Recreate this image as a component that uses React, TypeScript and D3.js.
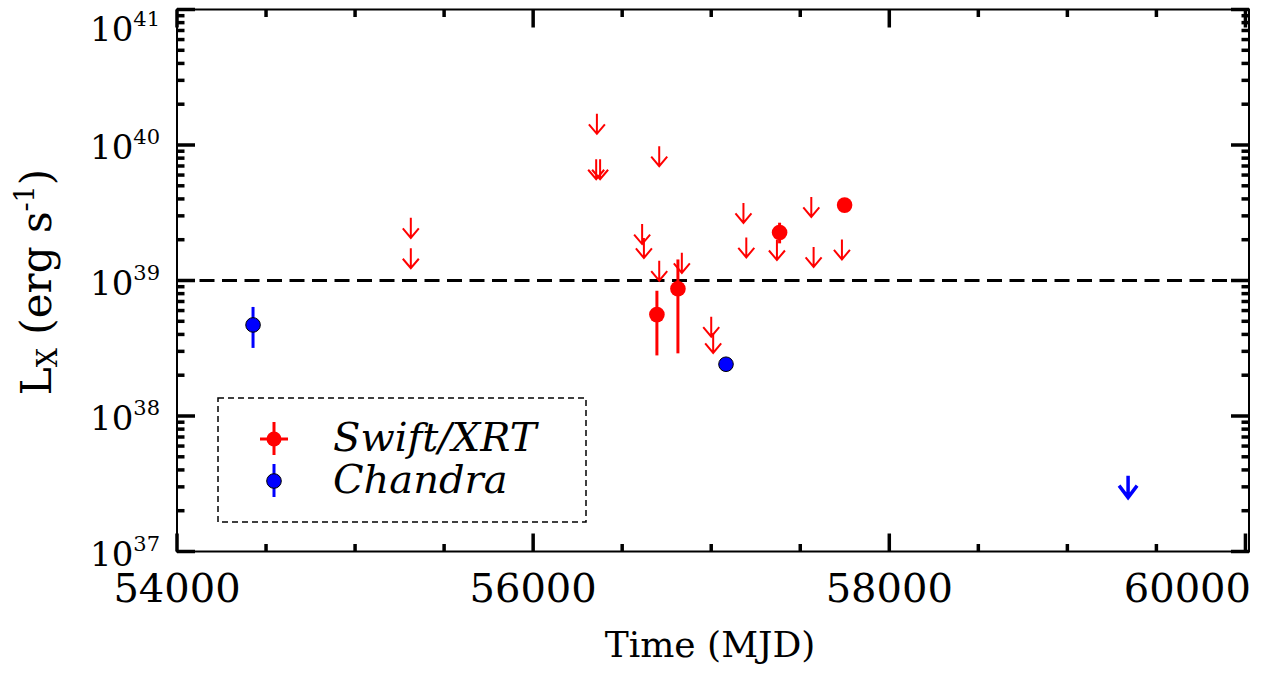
import React from "react";
import * as d3 from "d3";

// ---- data ----
const xTickValues = [54000, 56000, 58000, 60000];
const yDecades = [37, 38, 39, 40, 41];

// Swift/XRT detections: MJD, Lx, lower, upper
const swiftDetMjd = [56695, 56813, 57384, 57749];
const swiftDetLx = [5.6e38, 8.7e38, 2.26e39, 3.6e39];
const swiftDetLo = [2.8e38, 2.9e38, 1.88e39, 3.5e39];
const swiftDetHi = [8.4e38, 1.43e39, 2.67e39, 3.7e39];

// Swift/XRT upper limits
const swiftLimMjd = [55313, 55313, 56358, 56354, 56376, 56612, 56622, 56708, 56708, 56835, 57000, 57011, 57181, 57197, 57369, 57562, 57575, 57734];
const swiftLimLx = [2.9e39, 1.73e39, 1.7e40, 7.85e39, 7.85e39, 2.61e39, 2.06e39, 9.8e39, 1.4e39, 1.6e39, 5.41e38, 4.1e38, 3.74e39, 2.08e39, 1.99e39, 4.14e39, 1.77e39, 2.01e39];

// Chandra detections
const chandraDetMjd = [54427, 57083];
const chandraDetLx = [4.7e38, 2.41e38];
const chandraDetLo = [3.18e38, 2.32e38];
const chandraDetHi = [6.38e38, 2.5e38];

// Chandra upper limit
const chandraLimMjd = [59341];
const chandraLimLx = [3.63e37];

const threshold = 1e39;

const W = 1266;
const H = 674;
const L = 177, R = 1249, T = 9.5, B = 551.5;
const FONT = "'DejaVu Serif', serif";

export default function App() {
  const x = d3.scaleLinear().domain([54000, 60020]).range([L, R]);
  const y = d3.scaleLog().domain([1e37, 1e41]).range([B, T]);

  const xMinor = d3.range(54000, 60001, 500).filter((v) => v % 2000 !== 0);
  const yMinor: number[] = [];
  for (let d = 37; d < 41; d++) for (let m = 2; m <= 9; m++) yMinor.push(m * Math.pow(10, d));

  const tickW = 3.5;
  const majLen = 18, minLen = 7.5;

  const redArrow = (mx: number, v: number, key: string) => {
    const px = x(mx), py = y(v), len = 20;
    return (
      <path key={key} d={`M${px},${py}L${px},${py + len}M${px - 8},${py + len - 9.5}L${px},${py + len}L${px + 8},${py + len - 9.5}`}
        stroke="#ff0000" strokeWidth={2} fill="none" />
    );
  };
  const blueArrow = (mx: number, v: number, key: string) => {
    const px = x(mx), py = y(v), len = 22;
    return (
      <path key={key} d={`M${px},${py}L${px},${py + len}M${px - 9},${py + len - 12}L${px},${py + len}L${px + 9},${py + len - 12}`}
        stroke="#0000ff" strokeWidth={3.5} fill="none" />
    );
  };

  return (
    <svg width={W} height={H} style={{ position: "absolute", left: 0, top: 0, background: "#fff" }} fontFamily={FONT}>
      <rect x={0} y={0} width={W} height={H} fill="#fff" />
      {/* threshold line */}
      <line x1={L} x2={R} y1={y(threshold)} y2={y(threshold)} stroke="#000" strokeWidth={3} strokeDasharray="15,7.5" />

      {/* Swift limits */}
      {swiftLimMjd.map((m, i) => redArrow(m, swiftLimLx[i], "sl" + i))}
      {/* Swift detections */}
      {swiftDetMjd.map((m, i) => (
        <g key={"sd" + i}>
          <line x1={x(m)} x2={x(m)} y1={y(swiftDetLo[i])} y2={y(swiftDetHi[i])} stroke="#ff0000" strokeWidth={3} />
          <circle cx={x(m)} cy={y(swiftDetLx[i])} r={7.8} fill="#ff0000" />
        </g>
      ))}
      {/* Chandra */}
      {chandraDetMjd.map((m, i) => (
        <g key={"cd" + i}>
          <line x1={x(m)} x2={x(m)} y1={y(chandraDetLo[i])} y2={y(chandraDetHi[i])} stroke="#0000ff" strokeWidth={3} />
          <circle cx={x(m)} cy={y(chandraDetLx[i])} r={7.3} fill="#0000ff" stroke="#000" strokeWidth={1} />
        </g>
      ))}
      {chandraLimMjd.map((m, i) => blueArrow(m, chandraLimLx[i], "cl" + i))}

      {/* frame */}
      <rect x={L} y={T} width={R - L} height={B - T} fill="none" stroke="#000" strokeWidth={2} />

      {/* x ticks */}
      {xTickValues.map((v) => (
        <g key={"xt" + v}>
          <line x1={x(v)} x2={x(v)} y1={B} y2={B - majLen} stroke="#000" strokeWidth={tickW} />
          <line x1={x(v)} x2={x(v)} y1={T} y2={T + majLen} stroke="#000" strokeWidth={tickW} />
        </g>
      ))}
      {xMinor.map((v) => (
        <g key={"xm" + v}>
          <line x1={x(v)} x2={x(v)} y1={B} y2={B - minLen} stroke="#000" strokeWidth={tickW} />
          <line x1={x(v)} x2={x(v)} y1={T} y2={T + minLen} stroke="#000" strokeWidth={tickW} />
        </g>
      ))}
      {/* y ticks */}
      {yDecades.map((d) => {
        const py = y(Math.pow(10, d));
        return (
          <g key={"yt" + d}>
            <line x1={L} x2={L + majLen} y1={py} y2={py} stroke="#000" strokeWidth={tickW} />
            <line x1={R} x2={R - majLen} y1={py} y2={py} stroke="#000" strokeWidth={tickW} />
          </g>
        );
      })}
      {yMinor.map((v, i) => {
        const py = y(v);
        return (
          <g key={"ym" + i}>
            <line x1={L} x2={L + minLen} y1={py} y2={py} stroke="#000" strokeWidth={tickW} />
            <line x1={R} x2={R - minLen} y1={py} y2={py} stroke="#000" strokeWidth={tickW} />
          </g>
        );
      })}

      {/* x tick labels */}
      {xTickValues.map((v, i) => {
        const last = i === xTickValues.length - 1;
        return (
          <text key={"xl" + v} x={last ? 1251 : x(v)} y={602} fontSize={40} textAnchor={last ? "end" : "middle"} fill="#000">
            {v}
          </text>
        );
      })}
      {/* y tick labels */}
      {yDecades.map((d) => {
        const py = Math.max(y(Math.pow(10, d)) + 14, 41);
        return (
          <text key={"yl" + d} x={160} y={py} textAnchor="end" fill="#000">
            <tspan fontSize={34}>10</tspan>
            <tspan fontSize={21} dy={-15}>{d}</tspan>
          </text>
        );
      })}

      {/* axis titles */}
      <text x={710} y={657} fontSize={36} textAnchor="middle" fill="#000">Time (MJD)</text>
      <text transform={`translate(51,282) rotate(-90)`} textAnchor="middle" fill="#000" fontSize={42}>
        <tspan>L</tspan>
        <tspan fontSize={27} dy={6}>X</tspan>
        <tspan dy={-6}> (erg s</tspan>
        <tspan fontSize={27} dy={-17}>-1</tspan>
        <tspan dy={17}>)</tspan>
      </text>

      {/* legend */}
      <rect x={218} y={398} width={368} height={124} fill="none" stroke="#000" strokeWidth={1.5} strokeDasharray="6,4" />
      <line x1={260} x2={288} y1={439} y2={439} stroke="#ff0000" strokeWidth={3} />
      <line x1={274} x2={274} y1={422} y2={455} stroke="#ff0000" strokeWidth={3} />
      <circle cx={274} cy={439} r={7.5} fill="#ff0000" />
      <line x1={274} x2={274} y1={464} y2={497} stroke="#0000ff" strokeWidth={3} />
      <circle cx={274} cy={481} r={7.3} fill="#0000ff" stroke="#000" strokeWidth={1} />
      <text x={333} y={451} fontSize={40} fontStyle="italic" fill="#000">Swift/XRT</text>
      <text x={333} y={493} fontSize={40} fontStyle="italic" fill="#000">Chandra</text>
    </svg>
  );
}
